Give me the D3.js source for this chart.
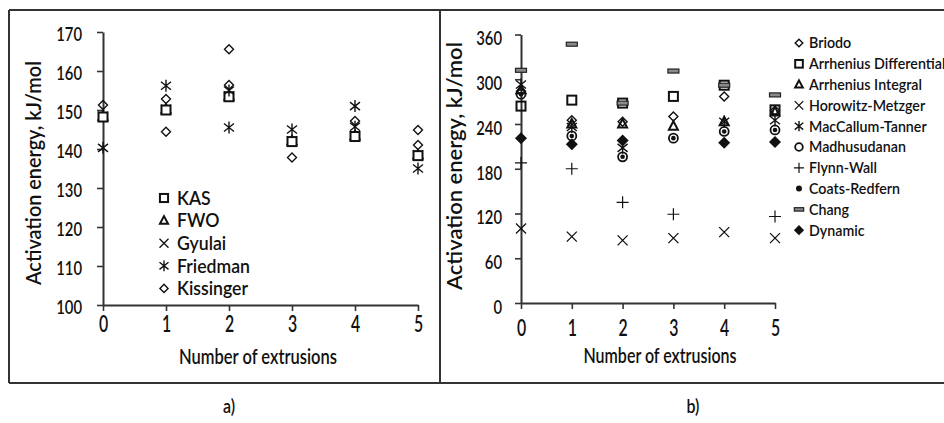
<!DOCTYPE html>
<html>
<head>
<meta charset="utf-8">
<script src="https://cdn.jsdelivr.net/npm/d3@7"></script>
<style>
  html, body { margin: 0; padding: 0; background: #fff; }
  svg text { font-family: Lato, 'Open Sans', sans-serif; font-weight: 600; fill: #111; }
</style>
</head>
<body>
<svg id="chart" width="944" height="423"></svg>
<script>
// Number of extrusions (shared x values)
const extrusions = [0, 1, 2, 3, 4, 5];

// Panel a) — isoconversional methods, kJ/mol
const ticksA = [100, 110, 120, 130, 140, 150, 160, 170];
const kasValues = [148.2, 150.0, 153.4, 141.9, 143.2, 138.3];
const fwoValues = [148.4, 150.2, 153.6, 142.1, 143.4, 138.5];
const gyulaiValues = [148.3, 150.1, 153.5, 142.0, 143.3, 138.4];
const friedmanValues = [[140.3], [156.2], [155.0, 145.5], [145.0], [151.0, 145.7], [135.0]];
const kissingerValues = [[151.3], [152.8, 144.4], [165.6, 156.4], [137.8], [147.2], [144.9, 141.0]];

// Panel b) — model-fitting and other methods, kJ/mol
const ticksB = [0, 60, 120, 180, 240, 300, 360];
const briodoValues = [284, 245, 243, 250, 277, 258];
const arrDiffValues = [264, 272, 268, 277, 292, 259];
const arrIntValues = [286, 240, 240, 237, 243, 256];
const horowitzValues = [100, 89, 84, 87, 95, 87];
const maccallumValues = [293, 236, 208, null, 243, 245];
const madhusudananValues = [280, 224, 196, 221, 230, 232];
const flynnWallValues = [188, 180, 135, 119, null, 116];
const coatsRedfernValues = [280, 224, 196, 221, 230, 232];
const changValues = [312, 347, 268, 311, 292, 279];
const dynamicValues = [221, 213, 218, null, 215, 216];

const seriesA = [
  { name: "FWO", shape: "triangle", values: fwoValues },
  { name: "Gyulai", shape: "x", values: gyulaiValues },
  { name: "KAS", shape: "squareWhite", values: kasValues },
  { name: "Friedman", shape: "star", values: friedmanValues },
  { name: "Kissinger", shape: "diamond", values: kissingerValues }
];
const legendA = ["KAS", "FWO", "Gyulai", "Friedman", "Kissinger"];

const seriesB = [
  { name: "Briodo", shape: "diamond", values: briodoValues },
  { name: "Arrhenius Differential", shape: "square", values: arrDiffValues },
  { name: "Arrhenius Integral", shape: "triangle", values: arrIntValues },
  { name: "Horowitz-Metzger", shape: "x", values: horowitzValues },
  { name: "MacCallum-Tanner", shape: "star", values: maccallumValues },
  { name: "Madhusudanan", shape: "circle", values: madhusudananValues },
  { name: "Flynn-Wall", shape: "plus", values: flynnWallValues },
  { name: "Coats-Redfern", shape: "dot", values: coatsRedfernValues },
  { name: "Chang", shape: "bar", values: changValues },
  { name: "Dynamic", shape: "diamondFilled", values: dynamicValues }
];

const svg = d3.select("#chart");

// Narrow the lettering: squeeze each text to a fraction of its natural width
function condense(sel, k) {
  sel.each(function () {
    const w = this.getComputedTextLength();
    d3.select(this).attr("textLength", w * k).attr("lengthAdjust", "spacingAndGlyphs");
  });
}

// Marker drawing
function drawMarker(g, shape, s) {
  s = s || 1;
  switch (shape) {
    case "square":
    case "squareWhite":
      g.append("rect").attr("x", -4.5 * s).attr("y", -4.5 * s).attr("width", 9 * s).attr("height", 9 * s)
        .attr("fill", shape === "squareWhite" ? "#fff" : "none").attr("stroke", "#111").attr("stroke-width", 2);
      break;
    case "triangle":
      g.append("path").attr("d", `M0,${-5 * s}L${4.5 * s},${3.5 * s}L${-4.5 * s},${3.5 * s}Z`)
        .attr("fill", "none").attr("stroke", "#111").attr("stroke-width", 2);
      break;
    case "x":
      g.append("path").attr("d", `M${-5 * s},${-5 * s}L${5 * s},${5 * s}M${5 * s},${-5 * s}L${-5 * s},${5 * s}`)
        .attr("stroke", "#111").attr("stroke-width", 1.3);
      break;
    case "star":
      g.append("path").attr("d", `M${-5 * s},${-4 * s}L${5 * s},${4 * s}M${5 * s},${-4 * s}L${-5 * s},${4 * s}M0,${-6 * s}L0,${6 * s}`)
        .attr("stroke", "#111").attr("stroke-width", 1.4);
      break;
    case "diamond":
      g.append("path").attr("d", `M0,${-4.5 * s}L${4.5 * s},0L0,${4.5 * s}L${-4.5 * s},0Z`)
        .attr("fill", "none").attr("stroke", "#111").attr("stroke-width", 1.4);
      break;
    case "diamondFilled":
      g.append("path").attr("d", `M0,${-6 * s}L${6 * s},0L0,${6 * s}L${-6 * s},0Z`).attr("fill", "#111");
      break;
    case "circle":
      g.append("circle").attr("r", 4.5 * s).attr("fill", "none").attr("stroke", "#111").attr("stroke-width", 1.8);
      break;
    case "dot":
      g.append("circle").attr("r", 2.3 * s).attr("fill", "#111");
      break;
    case "plus":
      g.append("path").attr("d", `M${-6 * s},0L${6 * s},0M0,${-6 * s}L0,${6 * s}`)
        .attr("stroke", "#111").attr("stroke-width", 1.2);
      break;
    case "bar":
      g.append("rect").attr("x", -5.5 * s).attr("y", -2 * s).attr("width", 11 * s).attr("height", 4 * s)
        .attr("fill", "#8a8a8a").attr("stroke", "#222").attr("stroke-width", 1.2);
      break;
  }
}

function flatten(values) {
  const pts = [];
  values.forEach((v, i) => {
    if (v == null) return;
    (Array.isArray(v) ? v : [v]).forEach(val => pts.push({ x: extrusions[i], v: val }));
  });
  return pts;
}

function drawPanel(cfg) {
  const x = d3.scaleLinear().domain([0, 5]).range(cfg.xRange);
  const y = d3.scaleLinear().domain(cfg.yDomain).range(cfg.yRange);
  const g = svg.append("g");

  const yAxis = g.append("g").attr("transform", `translate(${cfg.xRange[0]},0)`)
    .call(d3.axisLeft(y).tickValues(cfg.ticks).tickSize(6).tickSizeOuter(0).tickPadding(cfg.yPad));
  yAxis.selectAll("text").attr("font-size", cfg.yFont).attr("dy", cfg.yDy).call(condense, 0.78);

  const xAxis = g.append("g").attr("transform", `translate(0,${cfg.yRange[0]})`)
    .call(d3.axisBottom(x).tickValues(extrusions).tickSize(6).tickSizeOuter(0).tickPadding(cfg.xPad).tickFormat(d3.format("d")));
  xAxis.selectAll("text").attr("font-size", cfg.xFont).call(condense, 0.72);

  [yAxis, xAxis].forEach(a => {
    a.select(".domain").attr("stroke", "#333").attr("stroke-width", 2);
    a.selectAll(".tick line").attr("stroke", "#333").attr("stroke-width", 1.6);
  });

  cfg.series.forEach(s => {
    flatten(s.values).forEach(p => {
      const m = g.append("g").attr("transform", `translate(${x(p.x)},${y(p.v)})`);
      drawMarker(m, s.shape, 1);
    });
  });

  // axis titles
  g.append("text").attr("x", cfg.xTitle[0]).attr("y", cfg.xTitle[1]).attr("text-anchor", "middle")
    .attr("font-size", cfg.titleFont).attr("textLength", cfg.xTitle[2]).attr("lengthAdjust", "spacingAndGlyphs")
    .text("Number of extrusions");
  g.append("text").attr("transform", `translate(${cfg.yTitle[0]},${cfg.yTitle[1]}) rotate(-90)`)
    .attr("text-anchor", "middle").attr("font-size", cfg.titleFont)
    .attr("textLength", cfg.yTitle[2]).attr("lengthAdjust", "spacingAndGlyphs")
    .text("Activation energy, kJ/mol");

  // legend
  const lg = g.append("g");
  cfg.legend.forEach((name, i) => {
    const s = cfg.series.find(d => d.name === name);
    const row = lg.append("g").attr("transform", `translate(${cfg.legendPos[0]},${cfg.legendPos[1] + i * cfg.legendStep})`);
    const mk = row.append("g");
    const shape = s.shape === "squareWhite" ? "square" : s.shape;
    drawMarker(mk, shape, shape === "dot" ? 1.3 : cfg.legendMarkerScale);
    row.append("text").attr("x", cfg.legendTextDx).attr("dy", "0.36em").attr("font-size", cfg.legendFont)
      .text(name).call(condense, cfg.legendCondense);
  });
}

drawPanel({
  xRange: [103, 418], yRange: [305, 32], yDomain: [100, 170], ticks: ticksA,
  yPad: 15, xPad: 5, yFont: 19, yDy: "0.45em", xFont: 22, titleFont: 21,
  series: seriesA, legend: legendA,
  xTitle: [258, 364, 158], yTitle: [41, 173, 224],
  legendPos: [164, 198], legendStep: 22.6, legendTextDx: 13, legendFont: 19, legendCondense: 0.93, legendMarkerScale: 0.9
});

drawPanel({
  xRange: [521, 775], yRange: [303, 34.5], yDomain: [0, 360], ticks: ticksB,
  yPad: 13, xPad: 11, yFont: 19, yDy: "0.55em", xFont: 22, titleFont: 21,
  series: seriesB, legend: seriesB.map(d => d.name),
  xTitle: [660, 363, 153], yTitle: [462, 166, 248],
  legendPos: [799, 43], legendStep: 20.8, legendTextDx: 10, legendFont: 15, legendCondense: 0.95, legendMarkerScale: 0.85
});

// panel frames
svg.append("path")
  .attr("d", "M9,10H950M9,383H950M9,10V383M440,10V383")
  .attr("fill", "none").attr("stroke", "#333").attr("stroke-width", 2);

// panel captions
svg.append("text").attr("x", 229).attr("y", 413).attr("text-anchor", "middle").attr("font-size", 20).text("a)").call(condense, 0.8);
svg.append("text").attr("x", 693).attr("y", 413).attr("text-anchor", "middle").attr("font-size", 20).text("b)").call(condense, 0.8);
</script>
</body>
</html>
